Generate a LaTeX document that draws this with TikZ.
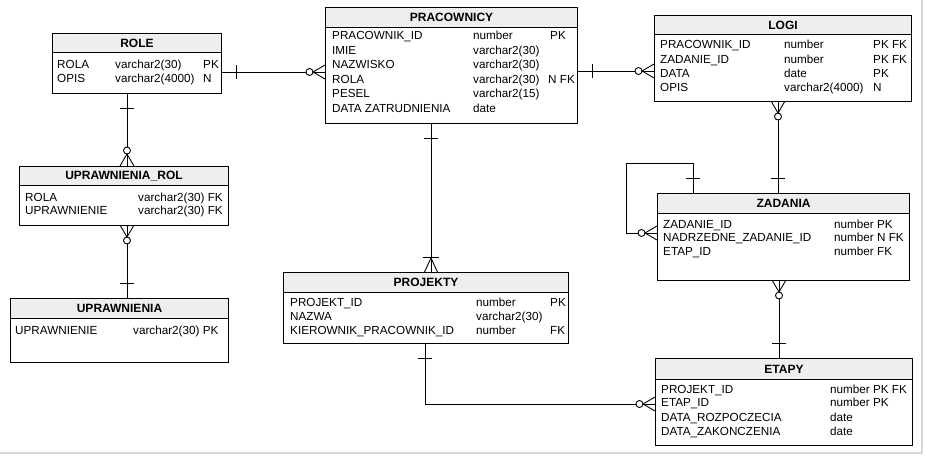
\documentclass[tikz,border=0pt]{standalone}
\usepackage{fontspec}
\setmainfont{Liberation Sans}
\definecolor{hdrgray}{RGB}{238,238,238}
\definecolor{framegray}{RGB}{215,215,215}
\tikzset{
  tbox/.style={draw=black, line width=1pt, fill=white, rectangle, inner sep=0pt, anchor=north west},
  thead/.style={draw=black, line width=1pt, fill=hdrgray, rectangle, inner sep=0pt, anchor=north west, font=\fontsize{12}{13}\selectfont\bfseries},
  fld/.style={anchor=base west, inner sep=0pt, font=\fontsize{11.7}{13}\selectfont},
  conn/.style={draw=black, line width=0.9pt},
  tick/.pic={\draw[conn] (-15,-7) -- (-15,7);},
  zmany/.pic={
    \draw[conn] (-12,0) -- (0,-7);
    \draw[conn] (-12,0) -- (0,0);
    \draw[conn] (-12,0) -- (0,7);
    \draw[conn, fill=white] (-15.5,0) circle[radius=3.5pt];},
  omany/.pic={
    \draw[conn] (-15,-8) -- (-15,8);
    \draw[conn] (-14,0) -- (0,-6.5);
    \draw[conn] (-14,0) -- (0,0);
    \draw[conn] (-14,0) -- (0,6.5);}
}
% table: name, x1, y1, x2, yh, y2, title
\newcommand\tbl[7]{%
  \node[tbox, minimum width={#4-#2}, minimum height={#6-#3}] (#1) at (#2,#3) {};
  \node[thead, minimum width={#4-#2}, minimum height={#5-#3}] (#1-h) at (#2,#3) {#7};}
% field: name, x, ycenter, text
\newcommand\fld[4]{\node[fld] (#1) at (#2,#3+4.2) {#4};}
\begin{document}
\begin{tikzpicture}[x=1pt,y=-1pt]
\useasboundingbox (0,0) rectangle (925,456);
\fill[white] (0,0) rectangle (925,456);
\draw[framegray, line width=1.5pt] (922,0) -- (922,453) -- (0,453);

% ---------- connectors ----------
\coordinate (a1) at (221,72); \coordinate (b1) at (325,72);
\draw[conn] (a1) -- (b1);
\pic[rotate=180] at (a1) {tick}; \pic at (b1) {zmany};

\coordinate (a2) at (577,71); \coordinate (b2) at (654,71);
\draw[conn] (a2) -- (b2);
\pic[rotate=180] at (a2) {tick}; \pic at (b2) {zmany};

\coordinate (a3) at (127,93); \coordinate (b3) at (127,166);
\draw[conn] (a3) -- (b3);
\pic[rotate=90] at (a3) {tick}; \pic[rotate=-90] at (b3) {zmany};

\coordinate (a4) at (127,225); \coordinate (b4) at (127,298);
\draw[conn] (a4) -- (b4);
\pic[rotate=90] at (a4) {zmany}; \pic[rotate=-90] at (b4) {tick};

\coordinate (a5) at (431,123); \coordinate (b5) at (431,272);
\draw[conn] (a5) -- (b5);
\pic[rotate=90] at (a5) {tick}; \pic[rotate=-90] at (b5) {omany};

\coordinate (a6) at (778,101); \coordinate (b6) at (778,193);
\draw[conn] (a6) -- (b6);
\pic[rotate=90] at (a6) {zmany}; \pic[rotate=-90] at (b6) {tick};

\coordinate (a7) at (693,193); \coordinate (b7) at (657,233);
\draw[conn] (a7) -- (693,163) -- (626,163) -- (626,233) -- (b7);
\pic[rotate=-90] at (a7) {tick}; \pic at (b7) {zmany};

\coordinate (a8) at (779,280); \coordinate (b8) at (779,358);
\draw[conn] (a8) -- (b8);
\pic[rotate=90] at (a8) {zmany}; \pic[rotate=-90] at (b8) {tick};

\coordinate (a9) at (425,343); \coordinate (b9) at (655,404);
\draw[conn] (a9) |- (b9);
\pic[rotate=90] at (a9) {tick}; \pic at (b9) {zmany};

% ---------- tables ----------
\tbl{role}{52}{33}{221}{52}{93}{ROLE}
\fld{ro1}{57}{64}{ROLA} \fld{ro1t}{115}{64}{varchar2(30)} \fld{ro1f}{203}{64}{PK}
\fld{ro2}{57}{78}{OPIS} \fld{ro2t}{115}{78}{varchar2(4000)} \fld{ro2f}{203}{78}{N}

\tbl{prac}{325}{7}{577}{27}{123}{PRACOWNICY}
\fld{pr1}{332}{35.5}{PRACOWNIK\_ID} \fld{pr1t}{473}{35.5}{number} \fld{pr1f}{550}{35.5}{PK}
\fld{pr2}{332}{50}{IMIE} \fld{pr2t}{473}{50}{varchar2(30)}
\fld{pr3}{332}{64.5}{NAZWISKO} \fld{pr3t}{473}{64.5}{varchar2(30)}
\fld{pr4}{332}{79}{ROLA} \fld{pr4t}{473}{79}{varchar2(30)} \fld{pr4f}{548}{79}{N FK}
\fld{pr5}{332}{93.5}{PESEL} \fld{pr5t}{473}{93.5}{varchar2(15)}
\fld{pr6}{332}{108}{DATA ZATRUDNIENIA} \fld{pr6t}{473}{108}{date}

\tbl{logi}{654}{15}{911}{34}{101}{LOGI}
\fld{lo1}{660}{44.5}{PRACOWNIK\_ID} \fld{lo1t}{784}{44.5}{number} \fld{lo1f}{873}{44.5}{PK FK}
\fld{lo2}{660}{59}{ZADANIE\_ID} \fld{lo2t}{784}{59}{number} \fld{lo2f}{873}{59}{PK FK}
\fld{lo3}{660}{73.3}{DATA} \fld{lo3t}{784}{73.3}{date} \fld{lo3f}{873}{73.3}{PK}
\fld{lo4}{660}{87.7}{OPIS} \fld{lo4t}{784}{87.7}{varchar2(4000)} \fld{lo4f}{873}{87.7}{N}

\tbl{uprol}{19}{166}{228}{185}{225}{UPRAWNIENIA\_ROL}
\fld{ur1}{25}{197.3}{ROLA} \fld{ur1t}{138}{197.3}{varchar2(30) FK}
\fld{ur2}{25}{210.7}{UPRAWNIENIE} \fld{ur2t}{138}{210.7}{varchar2(30) FK}

\tbl{upr}{10}{298}{228}{318}{362}{UPRAWNIENIA}
\fld{up1}{15}{330}{UPRAWNIENIE} \fld{up1t}{133}{330}{varchar2(30) PK}

\tbl{proj}{283}{272}{568}{292}{343}{PROJEKTY}
\fld{pj1}{290}{302.7}{PROJEKT\_ID} \fld{pj1t}{476}{302.7}{number} \fld{pj1f}{550}{302.7}{PK}
\fld{pj2}{290}{316.7}{NAZWA} \fld{pj2t}{476}{316.7}{varchar2(30)}
\fld{pj3}{290}{330.7}{KIEROWNIK\_PRACOWNIK\_ID} \fld{pj3t}{476}{330.7}{number} \fld{pj3f}{550}{330.7}{FK}

\tbl{zad}{657}{193}{909}{213}{280}{ZADANIA}
\fld{za1}{663}{224}{ZADANIE\_ID} \fld{za1t}{834}{224}{number PK}
\fld{za2}{663}{237.7}{NADRZEDNE\_ZADANIE\_ID} \fld{za2t}{834}{237.7}{number N FK}
\fld{za3}{663}{251}{ETAP\_ID} \fld{za3t}{834}{251}{number FK}

\tbl{etapy}{655}{358}{912}{379}{445}{ETAPY}
\fld{et1}{661}{389.3}{PROJEKT\_ID} \fld{et1t}{830}{389.3}{number PK FK}
\fld{et2}{661}{402.7}{ETAP\_ID} \fld{et2t}{830}{402.7}{number PK}
\fld{et3}{661}{417.3}{DATA\_ROZPOCZECIA} \fld{et3t}{830}{417.3}{date}
\fld{et4}{661}{431.7}{DATA\_ZAKONCZENIA} \fld{et4t}{830}{431.7}{date}
\end{tikzpicture}
\end{document}
